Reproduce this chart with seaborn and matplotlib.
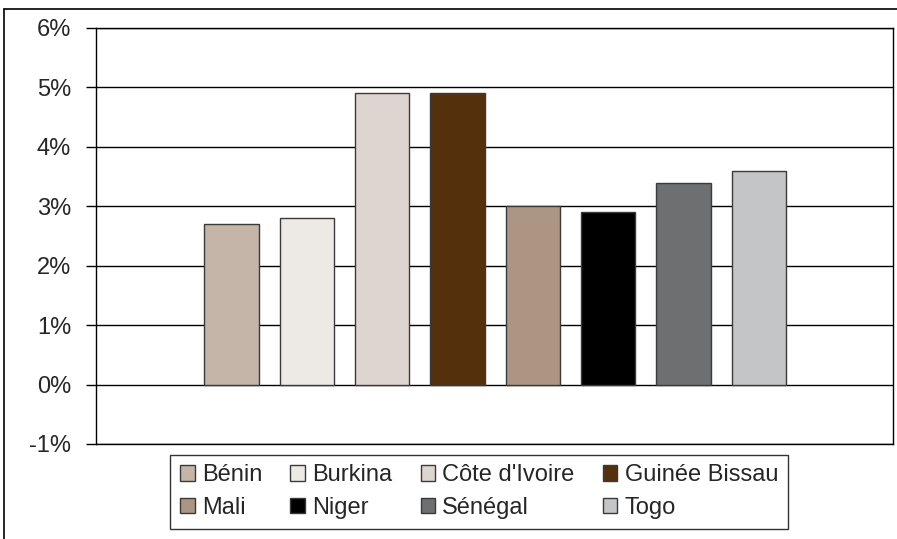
import matplotlib
matplotlib.use("Agg")
import matplotlib.pyplot as plt
import seaborn as sns
from matplotlib.lines import Line2D
from matplotlib.patches import Patch
from matplotlib.ticker import FuncFormatter

# data (percent)
countries = ["Bénin", "Burkina", "Côte d'Ivoire", "Guinée Bissau",
             "Mali", "Niger", "Sénégal", "Togo"]
values = [2.7, 2.8, 4.9, 4.9, 3.0, 2.9, 3.4, 3.6]
colors = ["#C4B5A8", "#EDE9E5", "#DED5D0", "#55300D",
          "#AC9683", "#000000", "#6E6F71", "#C4C5C7"]
yticks = [-1, 0, 1, 2, 3, 4, 5, 6]

sns.set_style("white")
plt.rcParams['font.family'] = ['Liberation Sans', 'DejaVu Sans']
plt.rcParams['axes.unicode_minus'] = False

W, H = 897, 539
fig = plt.figure(figsize=(W / 100, H / 100), dpi=100)
ax = fig.add_axes([96 / W, 1 - 444 / H, (893 - 96) / W, (444 - 28) / H])

palette = dict(zip(countries, colors))
sns.barplot(x=countries, y=values, hue=countries, palette=palette,
            legend=False, width=0.72, edgecolor="#3a3a3a", linewidth=1,
            saturation=1, ax=ax, zorder=3)

ax.set_xlim(-1.80, 8.78)
ax.set_ylim(-1, 6)
ax.set_yticks(yticks)
ax.yaxis.set_major_formatter(FuncFormatter(lambda v, p: f"{v:.0f}%"))
ax.set_xticks([])
ax.set_xlabel("")
ax.set_ylabel("")
ax.tick_params(axis="y", which="both", left=True, length=7, width=1,
               color="black", pad=11, labelsize=17)
ax.yaxis.grid(True, color="black", linewidth=1)
ax.set_axisbelow(True)
for s in ax.spines.values():
    s.set_visible(True)
    s.set_color("black")
    s.set_linewidth(1)

# legend is filled column by column, so reorder to read row by row
order = [0, 4, 1, 5, 2, 6, 3, 7]
handles = [Patch(facecolor=colors[i], edgecolor="#3a3a3a", linewidth=1) for i in order]
labels = [countries[i] for i in order]
leg = fig.legend(handles, labels, ncol=4,
                 loc="upper center",
                 bbox_to_anchor=(479 / W, 1 - 455 / H),
                 bbox_transform=fig.transFigure,
                 fontsize=17, frameon=True, fancybox=False,
                 handlelength=0.62, handleheight=0.62, handletextpad=0.3,
                 labelspacing=0.45, borderpad=0.4, borderaxespad=0,
                 columnspacing=1.2)
leg.get_frame().set_edgecolor("black")
leg.get_frame().set_linewidth(1)

# outer chart frame (top and left edges)
fig.add_artist(Line2D([3.5 / W, 1], [1 - 9 / H, 1 - 9 / H],
                      transform=fig.transFigure, color="black", lw=1.2))
fig.add_artist(Line2D([3.5 / W, 3.5 / W], [0, 1 - 9 / H],
                      transform=fig.transFigure, color="black", lw=1.2))

fig.savefig("out.png", dpi=100)
